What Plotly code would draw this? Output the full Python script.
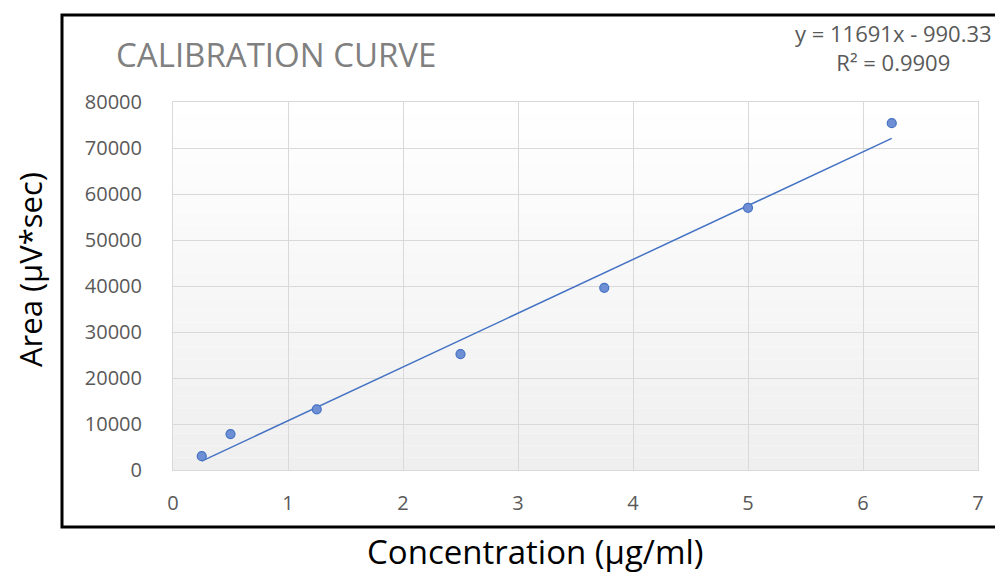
import plotly.graph_objects as go

# Data
concentration = [0.25, 0.5, 1.25, 2.5, 3.75, 5.0, 6.25]
area = [3000, 7800, 13200, 25200, 39600, 57000, 75400]
slope = 11691
intercept = -990.33
x_ticks = [0, 1, 2, 3, 4, 5, 6, 7]
y_ticks = [0, 10000, 20000, 30000, 40000, 50000, 60000, 70000, 80000]

trend_x = [min(concentration), max(concentration)]
trend_y = [slope * v + intercept for v in trend_x]

FONT = "Open Sans"
BLUE = "#4472C4"

# page offset of the plot div (body margin) is 8px
OFF = 8
PX0, PX1, PY0, PY1 = 173, 978, 102, 470  # plot area in window pixels
PW, PH = PX1 - PX0, PY1 - PY0


def px(x):
    return (x - PX0) / PW


def py(y):
    return (PY1 - y) / PH


fig = go.Figure()

fig.add_trace(go.Scatter(
    x=trend_x, y=trend_y, mode="lines",
    line=dict(color=BLUE, width=1.5), showlegend=False, hoverinfo="skip"))
fig.add_trace(go.Scatter(
    x=concentration, y=area, mode="markers",
    marker=dict(color="#6f8fd4", size=9, line=dict(color=BLUE, width=1.2)),
    showlegend=False))

# gradient plot background (white -> light gray)
n = 30
shapes = []
for i in range(n):
    t = i / (n - 1)
    c = int(round(255 - (255 - 239) * (1 - t)))
    shapes.append(dict(type="rect", xref="x domain", yref="y domain",
                       x0=0, x1=1, y0=i / n, y1=(i + 1) / n,
                       fillcolor=f"rgb({c},{c},{c})", line=dict(width=0),
                       layer="below"))
# outer black frame
shapes.append(dict(type="rect", xref="paper", yref="paper",
                   x0=px(62), x1=px(1012), y0=py(527), y1=py(15),
                   line=dict(color="black", width=3), fillcolor="rgba(0,0,0,0)"))

fig.update_layout(
    width=1003 - OFF, height=575 - OFF,
    margin=dict(l=PX0 - OFF, r=1003 - PX1, t=PY0 - OFF, b=575 - PY1),
    paper_bgcolor="white", plot_bgcolor="rgba(0,0,0,0)",
    shapes=shapes,
    font=dict(family=FONT, color="#595959"),
    annotations=[
        dict(text="CALIBRATION CURVE", xref="paper", yref="paper",
             x=px(114), y=py(54), xanchor="left", yanchor="middle",
             showarrow=False, font=dict(family=FONT, size=33, color="#808080")),
        dict(text="y = 11691x - 990.33<br>R² = 0.9909", xref="paper", yref="paper",
             x=px(893), y=py(47), xanchor="center", yanchor="middle",
             showarrow=False, align="center",
             font=dict(family=FONT, size=22, color="#595959")),
        dict(text="Area (µV*sec)", xref="paper", yref="paper",
             x=px(30), y=py(270), xanchor="center", yanchor="middle",
             textangle=-90, showarrow=False,
             font=dict(family=FONT, size=31, color="black")),
        dict(text="Concentration (µg/ml)", xref="paper", yref="paper",
             x=px(535), y=py(551), xanchor="center", yanchor="middle",
             showarrow=False,
             font=dict(family=FONT, size=33, color="black")),
    ],
)

fig.update_xaxes(range=[0, 7], tickvals=x_ticks, showgrid=True, gridcolor="#d9d9d9",
                 gridwidth=1, showline=True, linecolor="#d9d9d9", linewidth=1, mirror=True,
                 zeroline=False, ticks="", ticklabelstandoff=15,
                 tickfont=dict(family=FONT, size=20, color="#595959"))
fig.update_yaxes(range=[0, 80000], tickvals=y_ticks, tickformat="d", showgrid=True,
                 gridcolor="#d9d9d9",
                 gridwidth=1, showline=True, linecolor="#d9d9d9", linewidth=1, mirror=True,
                 zeroline=False, ticks="", ticklabelstandoff=26,
                 tickfont=dict(family=FONT, size=20, color="#595959"))

fig.write_html("out.html")
